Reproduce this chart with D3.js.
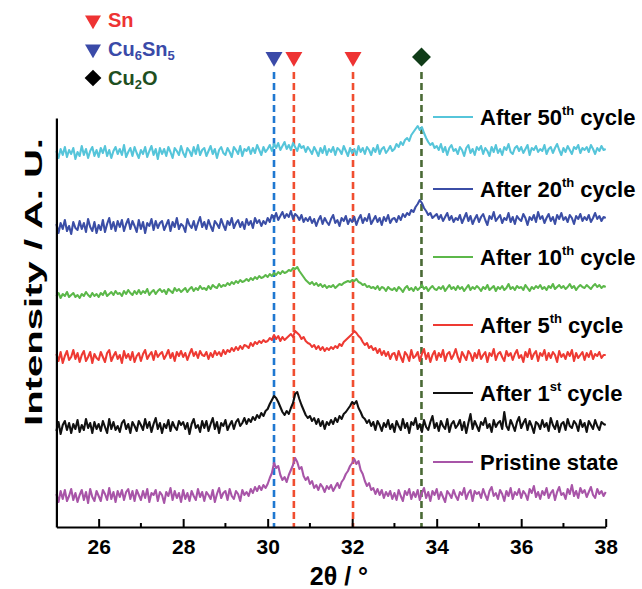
<!DOCTYPE html>
<html><head><meta charset="utf-8">
<script src="https://cdn.jsdelivr.net/npm/d3@7"></script>
<style>
body{margin:0;background:#fff}
svg{display:block}
text{font-family:Arial,"Liberation Sans",Helvetica,sans-serif;font-weight:bold}
</style>
</head><body>
<svg id="c" width="642" height="589"></svg>
<script>
// 2θ grid: start and step of the sampled patterns
const xStart = 25, xStep = 0.05;

const pristine = [
  3,-5,6,-2,7,-4,1,8,-3,4,  -5,2,7,-3,5,-6,8,0,-4,6,  1,-4,7,3,-3,9,-2,5,-5,6,  0,7,-3,5,8,-2,6,-4,7,2,
  -3,6,-1,8,-5,4,2,7,-4,5,  2,-6,5,1,9,-3,6,-1,4,-5,  7,-2,4,-4,6,1,-3,8,0,5,  -4,5,2,-2,7,-5,3,9,-1,4,
  6,-3,8,1,-2,6,3,-4,7,2,  5,1,8,4,10,6,11,7,12,9,  13,19,24,34,29,31,22,17,20,15,  22,27,32,39,35,28,30,21,17,20,
  13,16,9,12,7,13,10,5,11,8,  12,6,10,14,9,15,18,23,26,31,  34,38,33,36,27,23,16,11,14,7,  9,3,8,2,7,-1,5,1,6,-2,
  4,-3,7,1,-4,6,2,8,-2,5,  0,7,-3,4,9,-1,5,-4,6,2,  8,-2,5,0,-5,6,3,-1,7,1,  -3,5,2,9,-2,4,7,-4,6,3,
  5,-1,8,2,-3,6,10,1,4,-2,  7,3,-4,6,1,9,-2,5,2,8,  -1,6,3,-3,8,4,11,0,5,-2,  6,2,9,-1,4,7,-3,5,10,2,
  4,-2,8,3,12,1,6,-1,9,4,  7,0,5,10,2,-1,8,3,6,1,  5];
const cycle1 = [
  -4,5,-7,2,6,-3,4,-6,3,-2,  7,-5,2,-3,8,-1,4,-6,5,-2,  3,-4,6,0,-6,8,-2,5,-3,1,  -5,4,7,-2,3,-6,5,1,-4,6,
  2,-3,8,-1,5,-5,3,9,-2,4,  -6,3,-1,7,-4,5,0,-3,6,2,  5,-2,4,-7,3,8,-1,2,-5,6,  -1,6,-4,3,9,-2,5,-6,4,1,
  7,-3,2,6,-2,5,8,1,4,9,  3,8,5,10,7,12,9,14,11,16,  18,23,27,31,29,25,20,15,12,16,  13,19,24,33,35,28,22,17,12,9,
  11,6,9,3,8,1,6,-2,5,2,  7,3,9,5,11,8,13,15,18,21,  25,23,26,19,15,10,8,4,7,1,  5,-3,6,2,-4,4,0,7,-2,3,
  -5,6,1,-3,8,-1,4,-6,5,2,  9,-2,3,-5,7,0,-3,5,11,-1,  4,-4,6,1,-2,8,-5,3,6,-1,  2,7,-3,5,-6,4,13,-2,6,1,
  -4,5,2,9,-1,3,-5,7,0,4,  6,-2,15,1,-3,7,2,-4,5,10,  -1,4,8,-3,6,1,-6,5,3,-2,  7,0,4,-4,9,2,-2,6,-5,3,
  5,-3,8,1,-1,6,3,-4,7,0,  4,-5,6,2,-2,7,1,-3,5,3,  2];
const cycle5 = [
  4,-3,6,-5,2,7,-2,1,8,-1,  5,-4,3,7,-3,1,6,-5,4,0,  -2,6,1,-4,5,8,-3,2,6,-1,  3,-5,7,0,4,-2,6,-4,2,5,
  -3,4,8,-1,3,6,-2,7,1,4,  6,-1,3,8,0,5,-3,6,2,7,  1,5,-2,4,9,2,6,0,7,3,  2,6,-1,5,1,7,3,6,2,8,
  4,8,6,10,7,11,8,12,9,13,  12,10,15,12,16,14,17,15,18,16,  17,20,18,23,19,22,17,21,18,20,  22,24,21,27,25,23,19,21,17,15,
  14,11,13,9,12,8,11,7,10,8,  11,9,12,10,14,12,16,18,20,22,  24,27,25,22,20,16,13,15,10,12,  8,10,5,9,3,7,2,6,-1,4,
  5,-2,7,1,-4,6,3,-3,8,0,  2,6,-3,4,9,-1,5,-4,3,7,  -2,5,1,8,-3,4,6,-1,3,9,  1,-4,6,2,-2,7,4,-3,5,0,
  8,-1,3,6,-4,5,2,9,-2,4,  6,1,-3,7,2,5,-2,4,8,0,  3,-4,6,1,9,-1,4,7,-3,5,  2,8,-2,5,0,6,3,-4,7,1,
  4,-1,6,2,8,-3,5,0,3,6,  -2,5,1,7,-1,4,2,6,0,3,  3];
const cycle10 = [
  -3,0,-5,-1,-3,1,-4,-2,0,-4,  -2,-5,-1,-3,1,-2,-4,0,-3,-1,  -4,0,-2,2,-3,-1,1,-2,2,-1,  0,-3,2,-1,3,0,-2,2,-1,3,
  -1,2,0,4,-2,1,3,-1,2,4,  1,3,-1,4,2,0,5,2,4,1,  3,5,1,4,6,2,5,3,7,4,  5,3,7,4,8,6,5,9,6,8,
  7,10,8,11,9,12,10,13,11,12,  14,12,15,13,16,14,17,15,16,18,  16,19,17,20,18,21,19,22,20,21,  23,22,25,24,26,22,19,16,13,11,
  9,11,8,10,7,9,6,8,5,7,  6,8,5,7,9,8,10,11,12,11,  13,12,14,11,10,8,9,6,7,5,  6,4,7,3,6,5,2,6,4,3,
  5,2,6,4,1,5,7,3,5,2,  6,3,5,8,4,6,2,5,7,4,  3,6,4,7,2,5,8,4,6,3,  7,4,6,2,5,8,3,6,4,7,
  5,2,6,4,8,3,5,7,2,6,  4,7,3,5,9,4,6,3,7,5,  6,3,8,5,2,6,4,7,5,8,  4,6,3,7,5,9,4,6,8,5,
  7,4,6,9,5,7,3,6,8,6,  5,8,6,4,7,9,6,8,5,7,  6];
const cycle20 = [
  3,-6,4,-2,7,-4,1,-7,5,-1,  -3,6,-2,4,-5,8,0,-4,5,-6,  2,-3,7,-5,3,9,-2,5,-4,6,  0,7,-4,3,8,-2,6,1,-5,7,
  -2,5,-6,4,1,8,-3,6,-1,4,  6,-3,2,7,-4,5,0,9,-2,3,  1,-5,8,2,-1,6,-3,4,10,0,  5,-2,7,1,-4,6,3,-1,8,2,
  -3,6,2,9,-1,4,7,0,5,-2,  8,2,6,-1,9,4,7,1,6,3,  9,5,12,8,14,7,11,15,9,13,  10,16,8,13,11,7,12,5,9,6,
  10,4,8,1,7,11,3,9,5,2,  8,12,4,7,1,9,6,11,3,8,  5,10,2,8,12,4,9,6,13,3,  7,11,5,9,2,10,6,12,4,8,
  9,5,11,7,13,10,14,12,17,15,  20,23,27,24,19,16,12,14,9,11,  13,8,12,6,10,14,7,11,5,9,  7,12,4,9,14,6,11,3,8,12,
  5,10,13,7,2,11,8,15,6,9,  12,4,9,7,14,5,10,3,11,8,  6,13,9,2,10,7,12,5,15,8,  11,4,9,13,6,10,3,12,8,14,
  7,10,5,12,9,3,11,8,13,6,  10,7,12,5,9,14,8,11,6,10,  9];
const cycle50 = [
  2,-5,4,-2,6,-4,3,-1,5,-6,  1,-3,7,-2,4,-5,2,6,-3,3,  -4,5,0,7,-3,3,-5,2,6,-1,  4,-2,8,-4,1,5,-3,6,0,-5,
  3,-1,6,-4,2,7,-2,4,-6,5,  -1,4,-3,6,1,-5,5,2,-2,7,  0,-4,5,2,-3,6,-1,8,-2,3,  5,-3,2,7,-1,4,-5,3,6,0,
  -2,5,1,-4,6,3,-1,7,-3,4,  2,6,-1,5,0,8,3,-2,6,1,  4,8,2,9,5,10,3,7,11,4,  8,3,10,6,2,9,5,7,1,6,
  3,-1,6,2,-3,5,0,7,-2,4,  1,6,-2,5,3,-1,7,2,-3,5,  0,4,-2,7,1,5,-1,6,3,-2,  5,1,8,-1,4,6,0,3,7,2,
  4,9,6,11,8,13,15,12,18,21,  24,27,23,26,20,15,11,8,10,5,  7,3,9,1,6,-2,5,8,2,4,  -1,6,3,-3,5,8,0,4,-2,6,
  3,7,-1,5,2,-3,6,1,8,0,  4,-2,6,3,9,1,-1,5,7,2,  6,0,4,8,-2,5,3,7,1,4,  2,8,-1,4,6,0,5,9,3,-2,
  5,1,7,3,-1,6,4,8,0,5,  3,6,1,8,4,-1,5,2,7,3,  4];

const seriesData = [pristine, cycle1, cycle5, cycle10, cycle20, cycle50];
const seriesOffsets = [30, 100, 169, 234, 300, 374];
const seriesColors = ["#a855a8", "#111111", "#ee3a33", "#5cb84a", "#3b4ea6", "#56c5da"];
const legendMain = ["Pristine state", "After 1", "After 5", "After 10", "After 20", "After 50"];
const legendSup = ["", "st", "th", "th", "th", "th"];
const legendTail = ["", " cycle", " cycle", " cycle", " cycle", " cycle"];
const legendLevel = [65, 134, 202, 270, 338, 410];

const refPositions = [30.15, 30.62, 32.02, 33.64];
const refPhase = ["Cu6Sn5", "Sn", "Sn", "Cu2O"];
const phaseNames = ["Sn", "Cu6Sn5", "Cu2O"];
const phaseSubs = [["Sn"], ["Cu", "6", "Sn", "5"], ["Cu", "2", "O"]];
const phaseColors = {"Sn": "#ee3333", "Cu6Sn5": "#3a4aa8", "Cu2O": "#103c18"};
const phaseTextColors = ["#ee3333", "#3a4aa8", "#1f4f1f"];
const phaseLineColors = {"Sn": "#f04e30", "Cu6Sn5": "#1f78d1", "Cu2O": "#4a6a35"};
const phaseMarkerColors = ["#ee3333", "#3a4aa8", "#000000"];
const xTicks = [26, 28, 30, 32, 34, 36, 38];
const xMinorTicks = [27, 29, 31, 33, 35, 37];

const svg = d3.select("#c");
const x = d3.scaleLinear([25, 38], [56.4, 605.7]);
const y = d3.scaleLinear([0, 409], [527, 118]);

// reference dashed lines
svg.append("g").selectAll("line").data(refPositions).join("line")
  .attr("x1", d => x(d)).attr("x2", d => x(d))
  .attr("y1", y(455)).attr("y2", y(0))
  .attr("stroke", (d, i) => phaseLineColors[refPhase[i]])
  .attr("stroke-width", 2.6).attr("stroke-dasharray", "7,4");

// markers above the dashed lines
const markerSym = p => p === "Cu2O" ? d3.symbol(d3.symbolSquare, 180)() : d3.symbol(d3.symbolTriangle, 125)();
svg.append("g").selectAll("path").data(refPositions).join("path")
  .attr("d", (d, i) => markerSym(refPhase[i]))
  .attr("transform", (d, i) => `translate(${x(d)},${y(470)}) rotate(${refPhase[i] === "Cu2O" ? 45 : 180})`)
  .attr("fill", (d, i) => phaseColors[refPhase[i]]);

// patterns
const line = d3.line().x((d, i) => x(xStart + i * xStep));
seriesData.forEach((s, k) => {
  svg.append("path").datum(s)
    .attr("d", line.y(d => y(d + seriesOffsets[k])))
    .attr("fill", "none").attr("stroke", seriesColors[k])
    .attr("stroke-width", 2.1).attr("stroke-linejoin", "round");
});

// axes
const xAxis = d3.axisBottom(x).tickValues(xTicks).tickSize(-8).tickSizeOuter(0).tickPadding(12)
  .tickFormat(d3.format("d"));
const gx = svg.append("g").attr("transform", `translate(0,${y(0)})`).call(xAxis);
svg.append("g").attr("transform", `translate(0,${y(0)})`).selectAll("line").data(xMinorTicks).join("line")
  .attr("x1", d => x(d)).attr("x2", d => x(d)).attr("y1", 0).attr("y2", -4)
  .attr("stroke", "#000").attr("stroke-width", 2);
gx.select(".domain").attr("stroke-width", 2.2);
gx.selectAll(".tick line").attr("stroke-width", 2);
gx.selectAll(".tick text").attr("font-size", 21).attr("font-family", "Arial, 'Liberation Sans', sans-serif")
  .attr("font-weight", "bold").attr("fill", "#000");

const gy = svg.append("g").attr("transform", `translate(${x(25)},0)`)
  .call(d3.axisLeft(y).tickValues([]).tickSizeOuter(0));
gy.select(".domain").attr("stroke-width", 2.2);

// axis titles
svg.append("text").attr("x", 339).attr("y", 585).attr("text-anchor", "middle")
  .attr("font-size", 25).text("2θ / °");
svg.append("text").attr("transform", "translate(42,282) rotate(-90)").attr("text-anchor", "middle")
  .attr("font-size", 24).attr("textLength", 288).attr("lengthAdjust", "spacingAndGlyphs")
  .text("Intensity / A. U.");

// right legend
const lg = svg.append("g");
seriesData.forEach((s, k) => {
  const yy = y(legendLevel[k]);
  lg.append("line").attr("x1", 433).attr("x2", 473).attr("y1", yy).attr("y2", yy)
    .attr("stroke", seriesColors[k]).attr("stroke-width", 2);
  const t = lg.append("text").attr("x", 480).attr("y", yy + 8).attr("font-size", 22).attr("fill", "#000");
  t.append("tspan").text(legendMain[k]);
  if (legendSup[k]) {
    t.append("tspan").attr("font-size", 13).attr("dy", -10).text(legendSup[k]);
    t.append("tspan").attr("dy", 10).text(legendTail[k]);
  }
});

// phase legend (top left)
const pl = svg.append("g");
phaseNames.forEach((p, i) => {
  const yy = 20 + i * 29;
  pl.append("path")
    .attr("d", p === "Cu2O" ? d3.symbol(d3.symbolSquare, 140)() : d3.symbol(d3.symbolTriangle, 110)())
    .attr("transform", `translate(93,${yy}) rotate(${p === "Cu2O" ? 45 : 180})`)
    .attr("fill", phaseMarkerColors[i]);
  const t = pl.append("text").attr("x", 108).attr("y", yy + 7).attr("font-size", 20).attr("fill", phaseTextColors[i]);
  phaseSubs[i].forEach((part, j) => {
    const isSub = /^\d$/.test(part);
    const ts = t.append("tspan").text(part);
    if (isSub) ts.attr("font-size", 13).attr("dy", 4);
    else if (j > 0) ts.attr("dy", -4);
  });
});
</script>
</body></html>
